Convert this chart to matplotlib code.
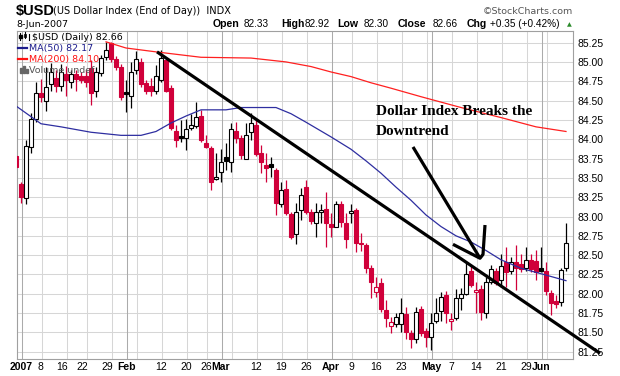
import numpy as np
import pandas as pd
import matplotlib
matplotlib.use("Agg")
import matplotlib.pyplot as plt

# trading days on the chart (29-Dec is cut by the left edge)
holidays = ['2007-01-01', '2007-01-15', '2007-02-19', '2007-04-06', '2007-05-28']
dates = pd.bdate_range('2006-12-29', '2007-06-08', freq='C', holidays=holidays)

opens = [83.78,
         83.42, 83.24, 83.90, 84.26, 84.60, 84.49, 84.71, 84.79, 84.69, 84.84, 84.74, 84.84, 84.82, 84.82, 84.92, 84.62, 84.86, 85.06, 85.24, 85.04, 84.94,
         84.61, 84.56, 84.89, 85.00, 84.73, 84.69, 84.62, 84.77, 85.02, 84.66, 84.10, 84.04, 84.01, 84.14, 84.17, 84.30, 83.95, 83.89, 83.48,
         83.57, 83.77, 83.70, 84.10, 84.01, 83.75, 84.09, 84.18, 83.82, 83.67, 83.68, 83.60, 83.16, 83.36, 83.03, 82.78, 83.09, 83.38, 83.06, 82.92, 83.06, 83.10,
         82.90, 82.87, 83.16, 82.91, 83.05, 83.09, 82.66, 82.63, 82.33, 82.02, 82.14, 81.79, 81.58, 81.61, 81.61, 81.74, 81.49, 81.42, 81.80, 81.52,
         81.44, 81.65, 81.78, 81.99, 81.65, 81.69, 81.95, 82.00, 82.30, 82.02, 82.06, 81.75, 82.15, 82.30, 82.18, 82.41, 82.29, 82.41, 82.38, 82.33, 82.44, 82.43,
         82.33, 82.30, 82.01, 81.91, 81.90, 82.33]
highs = [83.79,
         83.45, 83.99, 84.34, 84.74, 84.78, 84.93, 84.98, 84.90, 84.97, 84.95, 84.90, 84.90, 84.87, 84.90, 85.02, 84.93, 85.09, 85.26, 85.26, 85.08, 84.97,
         84.77, 85.00, 85.14, 85.05, 84.77, 84.79, 84.96, 85.16, 85.06, 84.70, 84.18, 84.25, 84.26, 84.32, 84.48, 84.38, 84.06, 83.91, 83.82,
         83.87, 83.95, 84.21, 84.22, 84.06, 84.21, 84.34, 84.25, 83.93, 83.82, 83.77, 83.63, 83.45, 83.47, 83.06, 83.18, 83.37, 83.47, 83.10, 83.17, 83.16, 83.32,
         83.05, 83.20, 83.20, 83.05, 83.16, 83.11, 82.79, 82.66, 82.37, 82.22, 82.21, 81.92, 81.70, 81.75, 81.94, 81.83, 81.53, 81.83, 81.84, 81.56,
         81.75, 81.95, 82.02, 82.04, 81.75, 82.06, 82.08, 82.41, 82.37, 82.15, 82.11, 82.22, 82.37, 82.34, 82.51, 82.60, 82.48, 82.63, 82.51, 82.60, 82.51, 82.57,
         82.60, 82.41, 82.05, 81.98, 82.33, 82.92]
lows = [83.62,
        83.18, 83.16, 83.82, 84.22, 84.48, 84.37, 84.63, 84.61, 84.63, 84.56, 84.66, 84.63, 84.73, 84.68, 84.44, 84.55, 84.82, 85.02, 85.00, 84.90, 84.51,
        84.35, 84.41, 84.85, 84.67, 84.59, 84.56, 84.59, 84.74, 84.61, 84.12, 83.90, 83.97, 83.86, 84.12, 84.14, 83.97, 83.89, 83.34, 83.47,
        83.45, 83.60, 83.57, 83.95, 83.74, 83.74, 83.99, 83.78, 83.56, 83.44, 83.51, 83.02, 83.12, 83.02, 82.71, 82.64, 82.95, 83.03, 82.90, 82.74, 82.91, 82.61,
        82.74, 82.86, 82.87, 82.59, 82.91, 82.54, 82.56, 82.27, 81.95, 81.96, 81.76, 81.57, 81.49, 81.57, 81.50, 81.42, 81.30, 81.36, 81.46, 81.31,
        81.27, 81.62, 81.65, 81.62, 81.53, 81.66, 81.79, 81.98, 82.09, 81.75, 81.66, 81.69, 82.13, 82.11, 82.09, 82.09, 82.25, 82.05, 82.28, 82.30, 82.28, 82.18,
        82.28, 81.98, 81.72, 81.82, 81.84, 82.30]
closes = [83.64,
          83.25, 83.91, 84.26, 84.60, 84.55, 84.67, 84.87, 84.69, 84.87, 84.77, 84.84, 84.78, 84.76, 84.74, 84.60, 84.87, 85.05, 85.16, 85.04, 84.94, 84.54,
          84.58, 84.87, 85.04, 84.71, 84.63, 84.62, 84.82, 85.05, 84.63, 84.14, 83.99, 84.02, 84.13, 84.18, 84.29, 83.99, 83.90, 83.45, 83.51,
          83.71, 83.72, 84.13, 84.01, 83.79, 84.06, 84.21, 83.81, 83.70, 83.63, 83.64, 83.18, 83.34, 83.05, 82.73, 83.06, 83.28, 83.06, 82.94, 83.06, 83.09, 82.91,
          82.86, 83.16, 82.93, 82.71, 83.07, 82.66, 82.64, 82.33, 82.15, 82.09, 81.80, 81.69, 81.64, 81.70, 81.75, 81.50, 81.42, 81.76, 81.49, 81.44,
          81.62, 81.75, 81.96, 81.75, 81.68, 81.95, 82.00, 82.26, 82.11, 82.05, 81.76, 82.15, 82.32, 82.14, 82.36, 82.28, 82.41, 82.33, 82.32, 82.44, 82.32, 82.28,
          82.30, 82.03, 81.88, 81.87, 82.31, 82.66]

ma50_dates = ['2006-12-29', '2007-01-08', '2007-01-12', '2007-01-23', '2007-01-31', '2007-02-06', '2007-02-09',
              '2007-02-14', '2007-02-20', '2007-02-23', '2007-03-02', '2007-03-07', '2007-03-16', '2007-03-21',
              '2007-03-26', '2007-04-02', '2007-04-09', '2007-04-12', '2007-04-17', '2007-04-20', '2007-04-25',
              '2007-04-30', '2007-05-03', '2007-05-08', '2007-05-11', '2007-05-16', '2007-05-21', '2007-05-25',
              '2007-06-01', '2007-06-08']
ma50_vals = [84.43, 84.20, 84.16, 84.09, 84.05, 84.05, 84.10, 84.21, 84.30, 84.38, 84.38, 84.41, 84.41, 84.33,
             84.22, 84.03, 83.87, 83.72, 83.56, 83.38, 83.21, 83.02, 82.87, 82.75, 82.67, 82.56, 82.44, 82.33,
             82.26, 82.17]
ma200_dates = ['2007-01-26', '2007-02-01', '2007-02-09', '2007-02-23', '2007-03-09', '2007-03-20', '2007-03-27',
               '2007-04-02', '2007-04-09', '2007-04-13', '2007-04-19', '2007-04-27', '2007-05-09', '2007-05-21',
               '2007-05-31', '2007-06-08']
ma200_vals = [85.26, 85.18, 85.13, 85.06, 85.05, 85.00, 84.94, 84.87, 84.81, 84.73, 84.66, 84.55, 84.41, 84.28,
              84.16, 84.10]

# hand drawn annotation strokes (day index, price)
trend_x, trend_y = [27.2, 115.8], [85.13, 81.23]
shaft_x, shaft_y = [78.4, 91.8], [83.90, 82.46]
hook_x, hook_y = [86.4, 91.8, 92.4, 92.8], [82.64, 82.46, 82.51, 82.89]

# (date, text, bold, align)
xlabels = [('2007-01-02', '2007', True, 'center'), ('2007-01-08', '8', False, 'right'),
           ('2007-01-16', '16', False, 'right'), ('2007-01-22', '22', False, 'right'),
           ('2007-01-29', '29', False, 'right'), ('2007-02-01', 'Feb', True, 'center'),
           ('2007-02-12', '12', False, 'center'), ('2007-02-20', '20', False, 'center'),
           ('2007-02-26', '26', False, 'center'), ('2007-03-01', 'Mar', True, 'center'),
           ('2007-03-12', '12', False, 'center'), ('2007-03-19', '19', False, 'center'),
           ('2007-03-26', '26', False, 'center'), ('2007-04-02', 'Apr', True, 'center'),
           ('2007-04-09', '9', False, 'center'), ('2007-04-16', '16', False, 'center'),
           ('2007-04-23', '23', False, 'center'), ('2007-05-01', 'May', True, 'center'),
           ('2007-05-07', '7', False, 'center'), ('2007-05-14', '14', False, 'center'),
           ('2007-05-21', '21', False, 'center'), ('2007-05-29', '29', False, 'center'),
           ('2007-06-01', 'Jun', True, 'center')]

W, H = 620, 376
RED = '#d0003a'
fig = plt.figure(figsize=(6.2, 3.76), dpi=100)
ax = fig.add_axes([17/W, 1-358.5/H, (573-17)/W, (358.5-31)/H])

x = np.arange(len(dates)) - 1
o = np.array(opens); h = np.array(highs); l = np.array(lows); c = np.array(closes)
prev = np.concatenate([[o[0]], c[:-1]])
col = np.where(c < prev, RED, 'black')
hollow = c > o

def pos(d):
    return dates.get_loc(pd.Timestamp(d)) - 1

# grid
for yv in np.arange(81.25, 85.3, 0.25):
    ax.axhline(yv, color='#d6d6d6', lw=0.75, zorder=0)
wk = pd.Series(dates.isocalendar().week.values, index=dates)
for k in range(1, len(dates)):
    newmonth = dates[k].month != dates[k-1].month
    newweek = wk.iloc[k] != wk.iloc[k-1]
    if newmonth:
        ax.axvline(x[k]+0.15, color='#ababab', lw=0.75, zorder=0)
    elif newweek:
        ax.axvline(x[k]+0.15, color='#d6d6d6', lw=0.75, zorder=0)

# candles
ax.vlines(x, l, h, colors=col, lw=0.9, zorder=2)
bottoms = np.minimum(o, c)
heights = np.maximum(np.abs(c - o), 0.012)
faces = np.where(hollow, 'white', col)
ax.bar(x, heights, bottom=bottoms, width=0.72, color=faces, edgecolor=col, lw=0.8, zorder=3)

# moving averages
ax.plot([pos(d) for d in ma50_dates], ma50_vals, color='#2e2ea0', lw=0.9, zorder=4)
ax.plot([pos(d) for d in ma200_dates], ma200_vals, color='#ff2020', lw=0.9, zorder=4)

# annotation
ax.plot(trend_x, trend_y, color='black', lw=2.3, zorder=5, clip_on=False, solid_capstyle='butt')
ax.plot(shaft_x, shaft_y, color='black', lw=2.3, zorder=5, solid_capstyle='butt')
ax.plot(hook_x, hook_y, color='black', lw=2.3, zorder=5, solid_capstyle='butt')
ax.text(71.0, 84.31, 'Dollar Index Breaks the', family='Liberation Serif', fontweight='bold',
        fontsize=11, va='baseline', zorder=6)
ax.text(71.0, 84.06, 'Downtrend', family='Liberation Serif', fontweight='bold',
        fontsize=11, va='baseline', zorder=6)

ax.set_xlim(-0.8, 110.4)
ax.set_ylim(81.163, 85.40)
ax.yaxis.tick_right()
ax.set_yticks(np.arange(81.25, 85.3, 0.25))
ax.set_yticklabels(['%.2f' % v for v in np.arange(81.25, 85.3, 0.25)],
                   family='Liberation Sans', fontsize=7.5)
ax.tick_params(axis='y', length=0, pad=3)
ax.set_xticks([])
for s in ax.spines.values():
    s.set_color('#a0a0a0')
    s.set_linewidth(0.8)

for d, t, b, al in xlabels:
    xp = pos(d) + (0.4 if al == 'right' else 0)
    ax.text(xp, -0.012, t, transform=ax.get_xaxis_transform(), ha=al, va='top',
            family='Liberation Sans', fontsize=7.5, fontweight='bold' if b else 'normal')

def ft(px, py, s, **kw):
    fig.text(px/W, 1-py/H, s, va='baseline', **kw)

# header
ft(16, 14.5, '$USD', family='Liberation Sans', fontweight='bold', fontsize=10.5)
ft(53, 14.5, '(US Dollar Index (End of Day))  INDX', family='DejaVu Sans', fontsize=7)
ft(16, 27, '8-Jun-2007', family='DejaVu Sans', fontsize=6.8)
ft(483, 14, '\u00a9StockCharts.com', family='DejaVu Sans', fontsize=6.8, color='#555555')
for px_, s, b in [(213, 'Open', True), (244, '82.33', False), (281, 'High', True), (305, '82.92', False),
                  (337, 'Low', True), (364, '82.30', False), (398, 'Close', True), (433, '82.66', False),
                  (467, 'Chg', True), (490, '+0.35 (+0.42%)', False)]:
    if b:
        ft(px_, 27, s, family='Liberation Sans', fontweight='bold', fontsize=7.6)
    else:
        ft(px_, 27, s, family='Liberation Sans', fontsize=7.2)
ft(567, 26, '\u25b2', family='DejaVu Sans', fontsize=4.5, color='#2a8a2a')

# legend in plot
ft(32, 40, '$USD (Daily) 82.66', family='DejaVu Sans', fontsize=6.8)
ft(29, 51, 'MA(50) 82.17', family='DejaVu Sans', fontsize=6.8, color='#1c1c8c')
ft(29, 62, 'MA(200) 84.10', family='DejaVu Sans', fontsize=6.8, color='#ff1010')
ft(29, 73, 'Volume undef', family='DejaVu Sans', fontsize=6.8, color='#555555')
fig.add_artist(plt.Line2D([18/W, 27/W], [1-47.5/H, 1-47.5/H], color='#1c1c8c', lw=1.6))
fig.add_artist(plt.Line2D([18/W, 27/W], [1-58.5/H, 1-58.5/H], color='#ff1010', lw=1.6))
for bx, bh in [(20, 5), (23, 7), (26, 4)]:
    fig.add_artist(plt.Rectangle((bx/W, 1-73/H), 2/W, bh/H, color='#666666'))
for bx, b0, b1 in [(20, 33, 40), (25, 32, 38), (29, 34, 40)]:
    fig.add_artist(plt.Line2D([bx/W, bx/W], [1-b1/H, 1-b0/H], color='black', lw=0.8))
fig.add_artist(plt.Rectangle((19/W, 1-38/H), 2.5/W, 3/H, color='black'))
fig.add_artist(plt.Rectangle((24/W, 1-37/H), 2.5/W, 3/H, facecolor='white', edgecolor='black', lw=0.6))

fig.savefig('out.png', dpi=100)
